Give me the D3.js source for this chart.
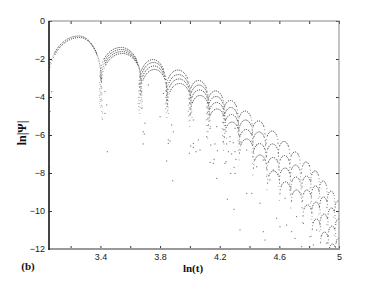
<!DOCTYPE html>
<html>
<head>
<meta charset="utf-8">
<script src="https://cdn.jsdelivr.net/npm/d3@7"></script>
<style>
  body { margin: 0; background: #fff; }
  .tick text { font-family: "Liberation Sans", Arial, sans-serif; font-size: 9px; fill: #222; }
  .tick line { stroke: #333; }
  .lab { font-family: "Liberation Serif", "Times New Roman", serif; font-weight: bold; fill: #111; }
</style>
</head>
<body>
<script>
// arch groups: peak position in ln(t) for each oscillation
const lnT = [3.256, 3.538, 3.753, 3.920, 4.058, 4.172, 4.272, 4.370, 4.460,
             4.551, 4.631, 4.705, 4.779, 4.839, 4.893, 4.946, 4.993];
// ln|psi| at the top of each nested arch in a group
const peaks = [
  [-0.79, -0.87],
  [-1.39, -1.50, -1.61, -1.71],
  [-2.03, -2.18, -2.37, -2.55],
  [-2.58, -2.82, -3.05, -3.29],
  [-3.13, -3.37, -3.63, -3.92],
  [-3.68, -3.97, -4.29, -4.63],
  [-4.18, -4.55, -4.92, -5.32],
  [-4.74, -5.21, -5.71, -6.21],
  [-5.26, -5.84, -6.45, -7.05],
  [-5.79, -6.47, -7.18, -7.89],
  [-6.34, -7.08, -7.74, -8.47],
  [-6.89, -7.58, -8.21, -8.89],
  [-7.42, -8.16, -8.89, -9.68],
  [-7.89, -8.68, -9.53, -10.42],
  [-8.42, -9.26, -10.16, -11.11],
  [-8.95, -9.84, -10.79, -11.74],
  [-9.47, -10.42, -11.42]
];
// half widths (ln t) left / right of the peak, and drop (ln|psi|) to the arch foot
const halfLeft  = [0.208, 0.141, 0.094, 0.080, 0.064, 0.057, 0.050, 0.047, 0.044,
                   0.040, 0.037, 0.034, 0.030, 0.028, 0.027, 0.025, 0.023];
const halfRight = [0.148, 0.127, 0.087, 0.080, 0.064, 0.057, 0.050, 0.047, 0.044,
                   0.040, 0.037, 0.034, 0.030, 0.028, 0.027, 0.025, 0.023];
const drop = [2.3, 1.5, 1.3, 1.1, 0.95, 0.85, 0.8, 0.75, 0.7,
              0.65, 0.62, 0.6, 0.58, 0.55, 0.55, 0.52, 0.5];

// loose points in the valleys between arches
const scatter = [
  [3.446,-6.88],[3.687,-6.47],[3.694,-5.95],[3.844,-7.37],[3.855,-6.44],[3.867,-6.32],
  [3.885,-8.41],[3.996,-6.96],[3.057,-7.70],[4.005,-6.58],[4.023,-6.65],[4.041,-6.88],
  [4.140,-6.53],[4.168,-6.47],[4.184,-6.83],[4.162,-7.28],[4.135,-7.44],[4.157,-7.49],
  [4.180,-8.28],[4.247,-6.47],[4.269,-6.35],[4.291,-6.41],[4.258,-6.88],[4.303,-6.88],
  [4.280,-7.00],[4.309,-7.28],[4.242,-7.41],[4.296,-7.70],[4.274,-8.02],[4.303,-8.02],
  [4.251,-9.38],[4.296,-9.91],[4.336,-11.0],[4.381,-9.07],[4.415,-9.07],[4.448,-7.67],
  [4.470,-9.59],[4.492,-11.09],[4.504,-11.53],[4.582,-10.38],[4.604,-10.83],[4.649,-10.74],
  [4.683,-11.09],[4.705,-11.44],[4.750,-11.88],[4.806,-11.35],[4.828,-11.79],[4.851,-11.0],
  [4.918,-11.7],[4.235,-7.49],[4.068,-6.79],[4.336,-6.35],[4.381,-6.79],[4.448,-6.53],
  [4.492,-7.32],[4.537,-8.37],[4.559,-7.84],[4.638,-9.33],[4.671,-8.89],[4.716,-10.3],
  [4.761,-10.65],[3.699,-5.38],[3.687,-5.83],[3.677,-3.72],[3.721,-3.37],[3.800,-5.04],
  [3.855,-6.26],[3.878,-5.47],[3.889,-5.83],[4.023,-6.44],[4.056,-6.26],[4.001,-4.95],
  [4.023,-5.21],[4.113,-6.09],[4.135,-5.65],[4.180,-5.56],[4.224,-6.35],[4.269,-6.09],
  [4.303,-5.65],[3.822,-3.81],[3.844,-4.16],[3.056,-4.25],[3.062,-4.77],[3.073,-3.72],
  [3.408,-3.02],[3.431,-3.72],[3.442,-4.42],[3.431,-4.86],[3.677,-4.59]
];

const xTicks = [3.2, 3.4, 3.6, 3.8, 4.0, 4.2, 4.4, 4.6, 4.8, 5.0];
const xLabeled = [3.4, 3.8, 4.2, 4.6, 5];
const yTicks = [0, -2, -4, -6, -8, -10, -12];

const width = 374, height = 281;
const svg = d3.select("body").append("svg")
    .attr("width", width)
    .attr("height", height);

const x = d3.scaleLinear().domain([3.055, 5]).range([49, 339]);
const y = d3.scaleLinear().domain([-12, 0]).range([249, 21]);

svg.append("clipPath").attr("id", "plot")
  .append("rect").attr("x", 49).attr("y", 21).attr("width", 290).attr("height", 228);

const marks = svg.append("g").attr("clip-path", "url(#plot)");

// build every arch (one per nested curve), lower ones drift a bit to the right
const arches = [];
lnT.forEach((t, g) => {
    peaks[g].forEach((p, k) => arches.push({ t, p, k, hl: halfLeft[g], hr: halfRight[g], dr: drop[g] }));
});

function archParts(d) {
    const cx = x(d.t) + d.k * 0.5, xl = x(d.t - d.hl) + d.k * 0.5, xr = x(d.t + d.hr) + d.k * 0.5;
    const yp = y(d.p), yf = y(d.p - d.dr);
    const rl = cx - xl, rr = xr - cx, ry = yf - yp;
    const c = 0.8, s = 0.6;
    const sLx = cx - rl * c, sRx = cx + rr * c, sy = yf - ry * s;
    return {
        top: `M${sLx},${sy} A${rl},${ry} 0 0 1 ${cx},${yp} A${rr},${ry} 0 0 1 ${sRx},${sy}`,
        sides: `M${xl},${yf} A${rl},${ry} 0 0 1 ${sLx},${sy} M${sRx},${sy} A${rr},${ry} 0 0 1 ${xr},${yf}`,
        tails: `M${xl},${yf} L${xl - 1},${yf + ry * 0.9} M${xr},${yf} L${xr + 1},${yf + ry * 0.9}`
    };
}

marks.selectAll(".tail")
    .data(arches)
    .enter()
    .append("path")
    .attr("d", d => archParts(d).tails)
    .attr("fill", "none")
    .attr("stroke", "#777")
    .attr("stroke-width", 0.8)
    .attr("stroke-dasharray", "0.8 5.5");

marks.selectAll(".side")
    .data(arches)
    .enter()
    .append("path")
    .attr("d", d => archParts(d).sides)
    .attr("fill", "none")
    .attr("stroke", "#444")
    .attr("stroke-width", 0.8)
    .attr("stroke-dasharray", "0.8 2.6");

marks.selectAll(".top")
    .data(arches)
    .enter()
    .append("path")
    .attr("d", d => archParts(d).top)
    .attr("fill", "none")
    .attr("stroke", "#1a1a1a")
    .attr("stroke-width", 0.9)
    .attr("stroke-dasharray", "1 1.1");

marks.selectAll(".pt")
    .data(scatter)
    .enter()
    .append("rect")
    .attr("x", d => x(d[0]) - 0.5)
    .attr("y", d => y(d[1]) - 0.5)
    .attr("width", 1)
    .attr("height", 1)
    .attr("fill", "#555");

// axes, ticks inward
const fmt = d3.format("~g");
svg.append("g")
    .attr("transform", "translate(0,249)")
    .call(d3.axisBottom(x).tickValues(xTicks).tickSize(-3).tickPadding(5)
        .tickFormat(d => xLabeled.some(v => Math.abs(v - d) < 1e-9) ? fmt(d) : ""))
    .call(g => g.select(".domain").remove());
svg.append("g")
    .attr("transform", "translate(0,21)")
    .call(d3.axisTop(x).tickValues(xTicks).tickSize(-3).tickFormat(""))
    .call(g => g.select(".domain").remove());
svg.append("g")
    .attr("transform", "translate(49,0)")
    .call(d3.axisLeft(y).tickValues(yTicks).tickSize(-3).tickPadding(4))
    .call(g => g.select(".domain").remove());
svg.append("g")
    .attr("transform", "translate(339,0)")
    .call(d3.axisRight(y).tickValues(yTicks).tickSize(-3).tickFormat(""))
    .call(g => g.select(".domain").remove());

// frame
svg.append("rect")
    .attr("x", 49).attr("y", 21).attr("width", 290).attr("height", 228)
    .attr("fill", "none").attr("stroke", "#888").attr("stroke-width", 1);
svg.append("line")
    .attr("x1", 48).attr("x2", 340).attr("y1", 249).attr("y2", 249)
    .attr("stroke", "#999").attr("stroke-width", 2);
svg.append("line")
    .attr("x1", 49).attr("x2", 49).attr("y1", 21).attr("y2", 250)
    .attr("stroke", "#000").attr("stroke-width", 1.3);

// labels
svg.append("text").attr("class", "lab")
    .attr("x", 193).attr("y", 272).attr("text-anchor", "middle")
    .attr("font-size", 11).text("ln(t)");
svg.append("text").attr("class", "lab")
    .attr("x", 28).attr("y", 270).attr("text-anchor", "middle")
    .attr("font-size", 11).text("(b)");
svg.append("text").attr("class", "lab")
    .attr("transform", "translate(25.5,133) rotate(-90)")
    .attr("text-anchor", "middle")
    .attr("font-size", 12).text("ln|Ψ|");
</script>
</body>
</html>
